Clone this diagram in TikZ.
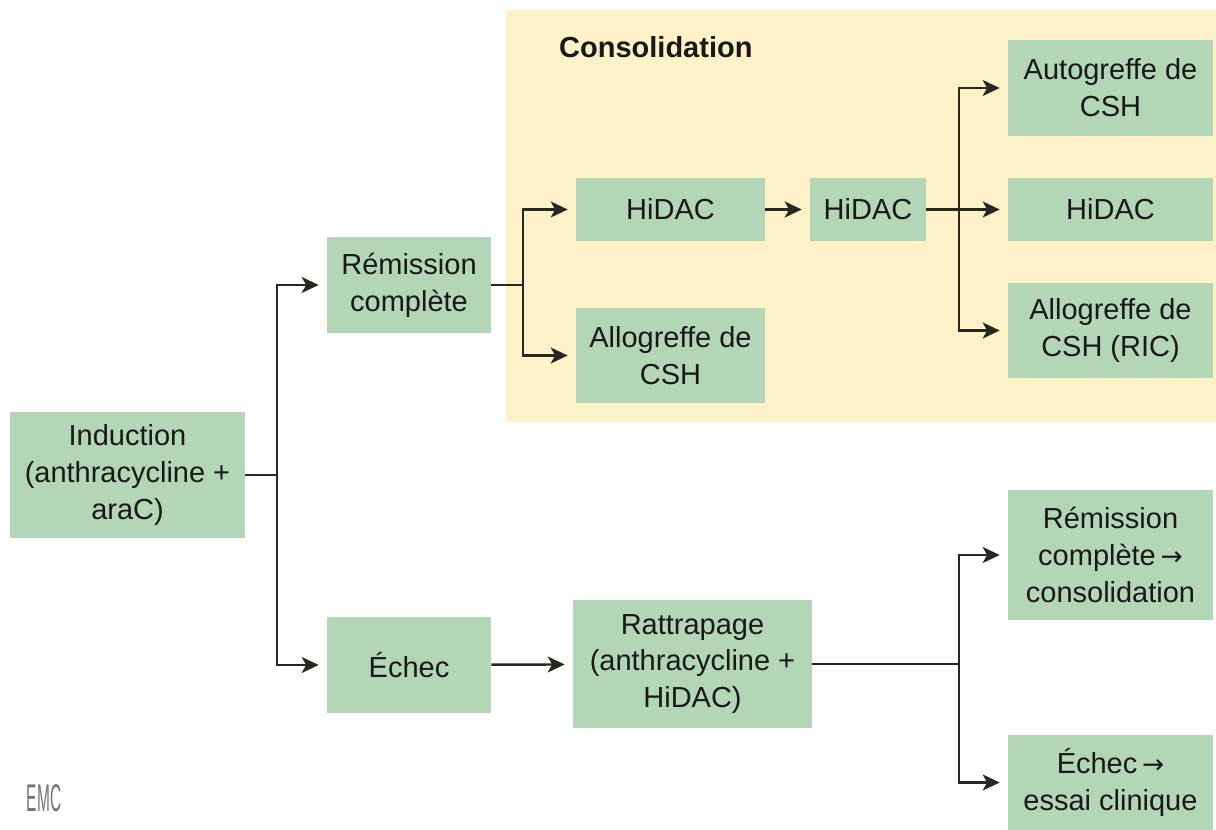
\documentclass[tikz,border=0pt]{standalone}
\usepackage{fontspec}
\setmainfont{Liberation Sans}
\newfontfamily\arrowfont{DejaVu Sans}
\usetikzlibrary{arrows.meta}
\definecolor{boxgreen}{RGB}{179,214,182}
\definecolor{consyellow}{RGB}{253,241,200}
\definecolor{linegray}{RGB}{40,40,35}
\newcommand{\txtarrow}{\,{\arrowfont\fontsize{15}{21}\selectfont →}}

\begin{document}
\begin{tikzpicture}[x=0.02cm,y=-0.02cm,
    box/.style={fill=boxgreen,align=center,inner sep=0pt,text=black!90,
        font=\fontsize{16.5}{21}\selectfont},
    link/.style={draw=linegray,line width=1.4pt},
    arr/.style={link,-{Stealth[length=3.4mm,width=3.2mm,inset=0.9mm]},shorten >=0.16cm}]
		\useasboundingbox (0,0) rectangle (1216,830);
		\fill[consyellow] (506,10) rectangle (1216,422);
		\node[anchor=west,text=black!90,font=\bfseries\fontsize{16.5}{21}\selectfont] (consol) at (553,47) {Consolidation};
		\node[box,minimum width=4.70cm,minimum height=2.52cm] (induc) at (127.5,475) {Induction\\(anthracycline +\\araC)};
		\node[box,minimum width=3.28cm,minimum height=1.92cm] (remis) at (409,285) {Rémission\\complète};
		\node[box,minimum width=3.28cm,minimum height=1.92cm] (echec) at (409,665) {Échec};
		\node[box,minimum width=3.78cm,minimum height=1.26cm] (hidacA) at (670.5,209.5) {HiDAC};
		\node[box,minimum width=3.78cm,minimum height=1.90cm] (alloA) at (670.5,355.5) {Allogreffe de\\CSH};
		\node[box,minimum width=2.32cm,minimum height=1.26cm] (hidacB) at (868,209.5) {HiDAC};
		\node[box,minimum width=4.10cm,minimum height=1.92cm] (autog) at (1110.5,88) {Autogreffe de\\CSH};
		\node[box,minimum width=4.10cm,minimum height=1.26cm] (hidacC) at (1110.5,209.5) {HiDAC};
		\node[box,minimum width=4.10cm,minimum height=1.90cm] (alloB) at (1110.5,330.5) {Allogreffe de\\CSH (RIC)};
		\node[box,minimum width=4.78cm,minimum height=2.56cm] (rattr) at (692.5,664) {Rattrapage\\(anthracycline +\\HiDAC)};
		\node[box,minimum width=4.10cm,minimum height=2.60cm] (remisB) at (1110.5,555) {Rémission\\complète\txtarrow\\consolidation};
		\node[box,minimum width=4.10cm,minimum height=1.90cm] (echecB) at (1110.5,782.5) {Échec\txtarrow\\essai clinique};
		\node[text=black!55,font=\fontsize{22}{22}\selectfont] (emc) at (44,798) {\scalebox{0.4}[1]{EMC}};
		\coordinate (splitA) at (277,475);
		\coordinate (splitB) at (523,285);
		\coordinate (splitC) at (959,209.5);
		\coordinate (splitD) at (959,664);
		\draw[link] (induc.east) -- (splitA);
		\draw[arr] (splitA) |- (remis.west);
		\draw[arr] (splitA) |- (echec.west);
		\draw[link] (remis.east) -- (splitB);
		\draw[arr] (splitB) |- (hidacA.west);
		\draw[arr] (splitB) |- (alloA.west);
		\draw[arr] (hidacA) -- (hidacB);
		\draw[link] (hidacB.east) -- (splitC);
		\draw[arr] (splitC) |- (autog.west);
		\draw[arr] (splitC) -- (hidacC.west);
		\draw[arr] (splitC) |- (alloB.west);
		\draw[arr] (echec) -- (rattr);
		\draw[link] (rattr.east) -- (splitD);
		\draw[arr] (splitD) |- (remisB.west);
		\draw[arr] (splitD) |- (echecB.west);
	\end{tikzpicture}
\end{document}
